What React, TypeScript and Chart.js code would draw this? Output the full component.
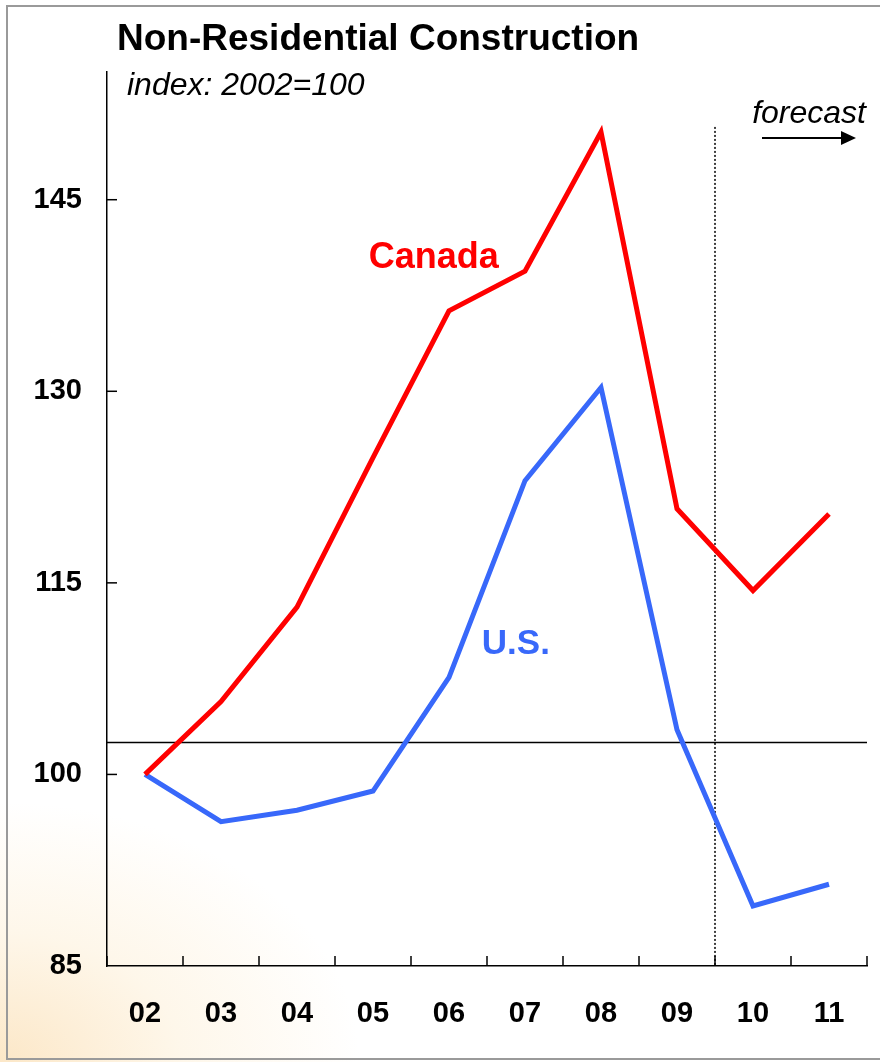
import React, { useEffect, useRef } from "react";
import { Chart, registerables } from "chart.js";

Chart.register(...registerables);

const categories = ["02", "03", "04", "05", "06", "07", "08", "09", "10", "11"];
const canadaValues = [100, 105.7, 113.1, 124.8, 136.3, 139.4, 150.3, 120.8, 114.4, 120.4];
const usValues = [100, 96.3, 97.2, 98.7, 107.6, 123.0, 130.3, 103.5, 89.7, 91.4];
const yTickValues = [85, 100, 115, 130, 145];
const referenceLevel = 102.5;
const forecastBoundary = 7.5; // between 09 and 10

const FONT = "'Liberation Sans', Arial, Helvetica, sans-serif";
const RED = "#FF0000";
const BLUE = "#3868FA";

const overlayPlugin = {
  id: "overlay",
  beforeDatasetsDraw(chart: any) {
    const { ctx, chartArea, scales } = chart;
    const x = scales.x;
    const y = scales.y;
    ctx.save();
    // horizontal reference line
    const ry = y.getPixelForValue(referenceLevel);
    ctx.strokeStyle = "#000";
    ctx.lineWidth = 1.3;
    ctx.beginPath();
    ctx.moveTo(chartArea.left, ry);
    ctx.lineTo(chartArea.right, ry);
    ctx.stroke();
    // forecast dotted line
    const fx = x.getPixelForValue(forecastBoundary);
    ctx.setLineDash([2, 2]);
    ctx.lineWidth = 1.5;
    ctx.beginPath();
    ctx.moveTo(fx, y.getPixelForValue(150.7));
    ctx.lineTo(fx, chartArea.bottom);
    ctx.stroke();
    ctx.restore();
  },
  afterDraw(chart: any) {
    const { ctx, chartArea, scales } = chart;
    const x = scales.x;
    const y = scales.y;
    ctx.save();
    ctx.strokeStyle = "#000";
    ctx.lineWidth = 1.5;
    // inside ticks on x axis
    for (let i = 0; i <= categories.length; i++) {
      const px = x.getPixelForValue(i - 0.5);
      ctx.beginPath();
      ctx.moveTo(px, chartArea.bottom);
      ctx.lineTo(px, chartArea.bottom - 10);
      ctx.stroke();
    }
    // inside ticks on y axis
    for (const v of yTickValues) {
      if (v === 85) continue;
      const py = y.getPixelForValue(v);
      ctx.beginPath();
      ctx.moveTo(chartArea.left, py);
      ctx.lineTo(chartArea.left + 10, py);
      ctx.stroke();
    }
    // title & subtitle
    ctx.fillStyle = "#000";
    ctx.textBaseline = "middle";
    ctx.textAlign = "left";
    ctx.font = `bold 37px ${FONT}`;
    ctx.fillText("Non-Residential Construction", 117, 40);
    ctx.font = `italic 32px ${FONT}`;
    ctx.fillText("index: 2002=100", 127, 86);
    // series labels
    ctx.textAlign = "center";
    ctx.font = `bold 36px ${FONT}`;
    ctx.fillStyle = RED;
    ctx.fillText("Canada", x.getPixelForValue(3.8), y.getPixelForValue(140.4));
    ctx.font = `bold 35px ${FONT}`;
    ctx.fillStyle = BLUE;
    ctx.fillText("U.S.", x.getPixelForValue(4.88), y.getPixelForValue(110.2));
    // forecast label + arrow
    ctx.fillStyle = "#000";
    ctx.textAlign = "right";
    ctx.font = `italic 32px ${FONT}`;
    ctx.fillText("forecast", chartArea.right - 1, 114);
    const ay = 138;
    const ax0 = chartArea.right - 105;
    const ax1 = chartArea.right - 11;
    ctx.lineWidth = 2;
    ctx.beginPath();
    ctx.moveTo(ax0, ay);
    ctx.lineTo(ax1 - 12, ay);
    ctx.stroke();
    ctx.beginPath();
    ctx.moveTo(ax1, ay);
    ctx.lineTo(ax1 - 15, ay - 7);
    ctx.lineTo(ax1 - 15, ay + 7);
    ctx.closePath();
    ctx.fill();
    ctx.restore();
  },
};

export default function App() {
  const canvasRef = useRef<HTMLCanvasElement | null>(null);

  useEffect(() => {
    const canvas = canvasRef.current;
    if (!canvas) return;
    const chart = new Chart(canvas, {
      type: "line",
      data: {
        labels: categories,
        datasets: [
          {
            label: "Canada",
            data: canadaValues,
            borderColor: RED,
            borderWidth: 5,
            pointRadius: 0,
            tension: 0,
            fill: false,
            borderJoinStyle: "miter",
          },
          {
            label: "U.S.",
            data: usValues,
            borderColor: BLUE,
            borderWidth: 5,
            pointRadius: 0,
            tension: 0,
            fill: false,
            borderJoinStyle: "miter",
          },
        ],
      },
      options: {
        responsive: false,
        animation: false,
        devicePixelRatio: 1,
        layout: { padding: { top: 72, right: 13, left: 0, bottom: 0 } },
        plugins: {
          legend: { display: false },
          tooltip: { enabled: false },
          title: { display: false },
        },
        scales: {
          x: {
            type: "category",
            offset: true,
            grid: { display: false, offset: true, drawTicks: false },
            border: { display: true, color: "#000", width: 1.5 },
            ticks: {
              color: "#000",
              font: { family: FONT, size: 29, weight: "bold" },
              padding: 31,
              maxRotation: 0,
              autoSkip: false,
            },
            afterFit(scale: any) {
              scale.height = 96;
            },
          },
          y: {
            min: 85,
            max: 155,
            grid: { display: false, drawTicks: false },
            border: { display: true, color: "#000", width: 1.5 },
            ticks: {
              stepSize: 15,
              color: "#000",
              font: { family: FONT, size: 29, weight: "bold" },
              padding: 25,
            },
            afterBuildTicks(scale: any) {
              scale.ticks = yTickValues.map((v) => ({ value: v }));
            },
            afterFit(scale: any) {
              scale.width = 107;
            },
          },
        },
      },
      plugins: [overlayPlugin],
    });
    return () => chart.destroy();
  }, []);

  return (
    <div
      style={{
        position: "absolute",
        left: 0,
        top: 0,
        width: 880,
        height: 1062,
        overflow: "hidden",
        background:
          "radial-gradient(ellipse 360px 260px at 0% 100%, rgba(249,208,145,0.5) 0%, rgba(252,228,185,0.3) 50%, rgba(255,255,255,0) 100%), #fff",
      }}
    >
      <div
        style={{
          position: "absolute",
          left: 6,
          top: 5,
          width: 890,
          height: 1051,
          border: "2px solid #9a9a9a",
        }}
      />
      <canvas
        ref={canvasRef}
        width={880}
        height={1062}
        style={{ position: "absolute", left: 0, top: 0, width: 880, height: 1062 }}
      />
    </div>
  );
}
